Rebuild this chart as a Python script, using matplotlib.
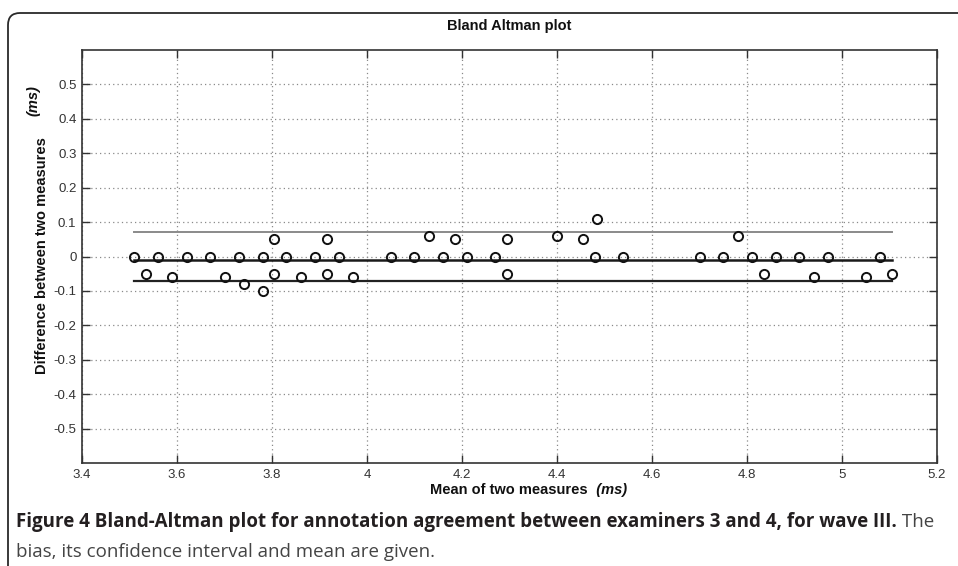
import matplotlib
matplotlib.use("Agg")
import matplotlib.pyplot as plt
from matplotlib.patches import FancyBboxPatch
from matplotlib.transforms import IdentityTransform

# mean of the two measures (ms) and their difference (ms)
means = [3.51, 3.535, 3.56, 3.59, 3.62, 3.67, 3.70, 3.73, 3.74, 3.78, 3.78,
         3.805, 3.805, 3.83, 3.86, 3.89, 3.915, 3.915, 3.94, 3.97, 4.05, 4.10,
         4.13, 4.16, 4.185, 4.21, 4.27, 4.295, 4.295, 4.40, 4.455, 4.48, 4.485,
         4.54, 4.70, 4.75, 4.78, 4.81, 4.835, 4.86, 4.91, 4.94, 4.97, 5.05,
         5.08, 5.105]
diffs = [0, -0.05, 0, -0.06, 0, 0, -0.06, 0, -0.08, 0, -0.10,
         0.05, -0.05, 0, -0.06, 0, 0.05, -0.05, 0, -0.06, 0, 0,
         0.06, 0, 0.05, 0, 0, 0.05, -0.05, 0.06, 0.05, 0, 0.11,
         0, 0, 0, 0.06, 0, -0.05, 0, 0, -0.06, 0, -0.06,
         0, -0.05]

bias = -0.009
upper = 0.07
lower = -0.07

xticks = [3.4, 3.6, 3.8, 4.0, 4.2, 4.4, 4.6, 4.8, 5.0, 5.2]
xticklabels = ["3.4", "3.6", "3.8", "4", "4.2", "4.4", "4.6", "4.8", "5", "5.2"]
yticks = [-0.5, -0.4, -0.3, -0.2, -0.1, 0, 0.1, 0.2, 0.3, 0.4, 0.5]
yticklabels = ["-0.5", "-0.4", "-0.3", "-0.2", "-0.1", "0",
               "0.1", "0.2", "0.3", "0.4", "0.5"]

narrow = ["Liberation Sans", "DejaVu Sans"]
capfont = ["Open Sans", "DejaVu Sans"]

fig = plt.figure(figsize=(9.58, 5.66), dpi=100)
ax = fig.add_axes([82 / 958, 1 - 463 / 566, 855 / 958, 413 / 566])

# rounded frame around the figure
frame = FancyBboxPatch((8, -30), 1000, 583, boxstyle="round,pad=0,rounding_size=12",
                       transform=IdentityTransform(), fill=False, lw=1.3,
                       ec="#2a2a2a", clip_on=False)
fig.add_artist(frame)

x0, x1 = min(means), max(means)
ax.plot([x0, x1], [upper, upper], color="#8a8a8a", lw=1.4, zorder=2)
ax.plot([x0, x1], [bias, bias], color="#1a1a1a", lw=1.8, zorder=2)
ax.plot([x0, x1], [lower, lower], color="#222222", lw=1.6, zorder=2)
ax.plot(means, diffs, "o", mfc="none", mec="#111111", ms=6.6, mew=1.4, zorder=3)

ax.set_xlim(3.4, 5.2)
ax.set_ylim(-0.6, 0.6)
ax.set_xticks(xticks)
ax.set_xticklabels(xticklabels, family=narrow, fontsize=9.5, color="#333333")
ax.set_yticks(yticks)
ax.set_yticklabels(yticklabels, family=narrow, fontsize=9.5, color="#333333")
ax.tick_params(direction="in", length=6, width=1, color="#333333",
               top=True, right=True, pad=4)
ax.grid(True, linestyle=(0, (1, 2.5)), color="#8a8a8a", lw=0.9)
for s in ax.spines.values():
    s.set_color("#333333")
    s.set_linewidth(1.2)

fig.text(509 / 958, 1 - 26 / 566, "Bland Altman plot", ha="center", va="center",
         family=narrow, fontsize=10.5, fontweight="bold", color="#111111")

# y label
fig.text(42 / 958, 1 - 256 / 566, "Difference between two measures", rotation=90,
         ha="center", va="center", family=narrow, fontsize=10.5,
         fontweight="bold", color="#111111")
fig.text(33 / 958, 1 - 101 / 566, "(ms)", rotation=90, ha="center", va="center",
         family=narrow, fontsize=10.5, fontweight="bold", style="italic",
         color="#111111")

# x label
xl = fig.text(430 / 958, 1 - 490 / 566, "Mean of two measures", ha="left",
              va="center", family=narrow, fontsize=10.5, fontweight="bold",
              color="#111111")
ax.annotate("  (ms)", xy=(1, 0.5), xycoords=xl, va="center", ha="left",
            family=narrow, fontsize=10.5, fontweight="bold", style="italic",
            color="#111111", annotation_clip=False)

# caption
cap = fig.text(16 / 958, 1 - 522 / 566,
               "Figure 4 Bland-Altman plot for annotation agreement between examiners 3 and 4, for wave III.",
               ha="left", va="center", family=capfont, fontsize=13.5,
               fontweight="bold", color="#231f20")
ax.annotate(" The", xy=(1, 0.5), xycoords=cap, va="center", ha="left",
            family=capfont, fontsize=13.5, color="#444444", annotation_clip=False)
fig.text(16 / 958, 1 - 552 / 566, "bias, its confidence interval and mean are given.",
         ha="left", va="center", family=capfont, fontsize=13.5, color="#444444")

fig.savefig("out.png", dpi=100)
